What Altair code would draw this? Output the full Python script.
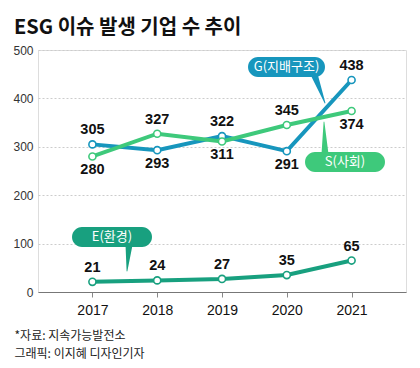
import altair as alt
import pandas as pd

years = ["2017", "2018", "2019", "2020", "2021"]
g_vals = [305, 293, 322, 291, 438]
s_vals = [280, 327, 311, 345, 374]
e_vals = [21, 24, 27, 35, 65]
g_pos = ["above", "below", "above", "below", "above"]
s_pos = ["below", "above", "below", "above", "below"]
e_pos = ["above", "above", "above", "above", "above"]

series = ["G", "S", "E"]
colors = ["#1796bd", "#3ec97b", "#18a07f"]

title_text = "ESG 이슈 발생 기업 수 추이"
footer = ["*자료: 지속가능발전소", "그래픽: 이지혜 디자인기자"]

box_labels = ["G(지배구조)", "S(사회)", "E(환경)"]

rows = []
for name, vals, pos in [("G", g_vals, g_pos), ("S", s_vals, s_pos), ("E", e_vals, e_pos)]:
    for y, v, p in zip(years, vals, pos):
        rows.append({"year": y, "value": v, "series": name, "pos": p})
df = pd.DataFrame(rows)

# annotation boxes (pixel coords within plot area)
boxes = pd.DataFrame({
    "label": box_labels,
    "x": [210, 267, 34], "x2": [287, 347, 114],
    "y": [7, 102, 177], "y2": [27, 122, 197],
    "c": colors,
})
boxes["tx"] = (boxes["x"] + boxes["x2"]) / 2
boxes["ty"] = (boxes["y"] + boxes["y2"]) / 2

tails = pd.DataFrame({
    "grp": ["G", "G", "S", "S", "E", "E"],
    "ord": [0, 1, 0, 1, 0, 1],
    "x": [276, 287, 287, 286, 91, 89],
    "y": [24, 53, 104, 72, 195, 221],
    "w": [7, 0.8, 7, 0.8, 7, 0.8],
    "c": [colors[0], colors[0], colors[1], colors[1], colors[2], colors[2]],
})

num_font = "Liberation Sans"
kr_font = "Noto Sans CJK KR"

color = alt.Color("series:N", scale=alt.Scale(domain=series, range=colors), legend=None)
x = alt.X("year:O", scale=alt.Scale(type="point", padding=0.84),
          axis=alt.Axis(labelAngle=0, labelFont=num_font, labelFontSize=14, labelColor="#111",
                        labelPadding=6, tickSize=5, tickColor="#888", domainColor="#777",
                        grid=False, title=footer, titleAnchor="start", titleAlign="left",
                        titleX=-24, titleY=38, titleBaseline="top", titleFont=kr_font,
                        titleFontSize=12, titleFontWeight="normal", titleColor="#222",
                        titleLineHeight=18))
y = alt.Y("value:Q", scale=alt.Scale(domain=[0, 500]),
          axis=alt.Axis(values=[0, 100, 200, 300, 400, 500], title=None, domain=False, ticks=False,
                        labelFont=num_font, labelFontSize=12, labelColor="#333", labelPadding=5,
                        gridColor="#cccccc", gridDash=[2, 2], gridWidth=1))

base = alt.Chart(df)
lines = base.mark_line(strokeWidth=4).encode(x=x, y=y, color=color, detail="series:N")
points = base.mark_point(filled=False, fill="white", fillOpacity=1, opacity=1, size=50,
                         strokeWidth=1.6).encode(x=x, y=y, color=color)
lab_above = base.transform_filter(alt.datum.pos == "above").mark_text(
    dy=-14, font=num_font, fontSize=14.5, fontWeight="bold", color="#111"
).encode(x=x, y=y, text="value:Q")
lab_below = base.transform_filter(alt.datum.pos == "below").mark_text(
    dy=14, font=num_font, fontSize=14.5, fontWeight="bold", color="#111"
).encode(x=x, y=y, text="value:Q")

tail_layer = alt.Chart(tails).mark_trail().encode(
    x=alt.X("x:Q", scale=None, axis=None), y=alt.Y("y:Q", scale=None, axis=None),
    size=alt.Size("w:Q", scale=None, legend=None), detail="grp:N", order="ord:Q",
    color=alt.Color("c:N", scale=None, legend=None))
box_layer = alt.Chart(boxes).mark_rect(cornerRadius=10).encode(
    x=alt.X("x:Q", scale=None, axis=None), x2="x2:Q",
    y=alt.Y("y:Q", scale=None, axis=None), y2="y2:Q",
    color=alt.Color("c:N", scale=None, legend=None))
box_text = alt.Chart(boxes).mark_text(font=kr_font, fontSize=13, color="white").encode(
    x=alt.X("tx:Q", scale=None, axis=None), y=alt.Y("ty:Q", scale=None, axis=None), text="label:N")

chart = alt.layer(lines, points, lab_above, lab_below, tail_layer, box_layer, box_text).properties(
    width=368, height=242,
    autosize=alt.AutoSizeParams(type="none"),
    padding={"left": 30, "top": 42, "right": 6, "bottom": 68},
    title=alt.TitleParams(title_text, anchor="start", frame="group", dx=-24, offset=6,
                          font=kr_font, fontSize=20,
                          fontWeight="bold", color="#111"),
).configure_view(stroke=None).configure(background="white")

chart.save("out.html", embed_options={"renderer": "svg", "actions": False})
